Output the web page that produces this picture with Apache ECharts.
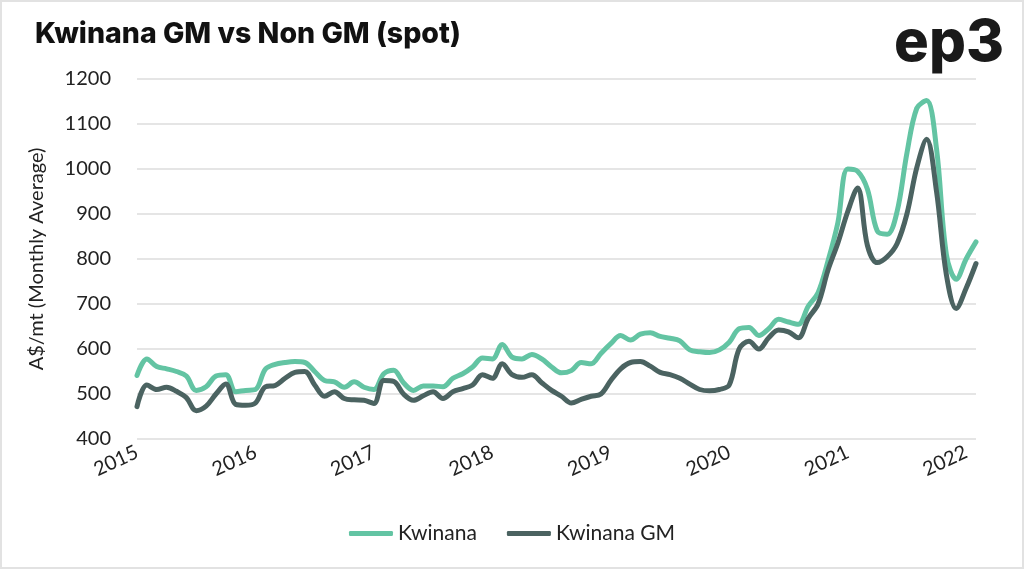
<!DOCTYPE html>
<html>
<head>
<meta charset="utf-8">
<script src="https://cdn.jsdelivr.net/npm/echarts@6/dist/echarts.min.js"></script>
<style>
html,body{margin:0;padding:0;background:#fff;}
#c{width:1024px;height:569px;box-sizing:border-box;border:2px solid #e2e2e2;}
</style>
</head>
<body>
<div id="c"></div>
<script>
// Monthly categories Jan 2015 .. Feb 2022
const years = [2015, 2016, 2017, 2018, 2019, 2020, 2021, 2022];
const months = [];
for (const y of years) {
  for (let m = 1; m <= 12; m++) {
    if (y === 2022 && m > 2) break;
    months.push(y + '-' + (m < 10 ? '0' + m : m));
  }
}

const kwinana = [
  541, 578, 561, 556, 550, 540, 508, 516, 540, 543, 505, 508,
  510, 555, 566, 570, 572, 570, 550, 530, 527, 515, 527, 515,
  510, 545, 553, 525, 508, 518, 518, 516, 535, 545, 560, 580,
  578, 610, 582, 578, 588, 578, 560, 547, 552, 570, 567, 590,
  612, 630, 620, 633, 636, 628, 624, 618, 598, 594, 592, 598,
  615, 645, 648, 630, 645, 666, 660, 655, 695, 725, 795, 880,
  1000, 995, 955, 862, 855, 905, 1035, 1135, 1152, 1045, 810, 755,
  800, 838
];

const kwinanaGM = [
  472, 520, 510, 515, 506, 492, 463, 473, 500, 522, 477, 475,
  480, 516, 519, 535, 548, 550, 520, 495, 505, 490, 487, 486,
  479, 530, 528, 500, 486, 496, 505, 490, 505, 512, 520, 543,
  535, 567, 543, 537, 543, 525, 508, 495, 480, 488, 495, 500,
  530, 556, 570, 572, 562, 548, 543, 535, 522, 510, 507, 510,
  520, 600, 617, 600, 625, 642, 638, 625, 668, 700, 775, 835,
  905, 958, 830, 792, 805, 834, 900, 1003, 1066, 950, 765, 690,
  735, 790
];

const yTicks = [400, 500, 600, 700, 800, 900, 1000, 1100, 1200];

const chart = echarts.init(document.getElementById('c'));
const fontFam = 'Lato, "Noto Sans", sans-serif';
chart.setOption({
  backgroundColor: '#fff',
  animation: false,
  title: {
    text: 'Kwinana GM vs Non GM (spot)',
    left: 28, top: 13,
    textStyle: { fontFamily: 'Inter, Lato, sans-serif', fontWeight: 800, fontSize: 28.5, color: '#111' }
  },
  graphic: [{
    type: 'text', right: 18, top: 13,
    style: { text: 'ep3', font: '800 58px Inter, Lato, sans-serif', fill: '#1a1a1a' }
  }],
  legend: {
    bottom: 18, left: 'center',
    icon: 'roundRect',
    itemWidth: 44, itemHeight: 5, itemGap: 30,
    textStyle: { fontFamily: fontFam, fontSize: 21, color: '#222' },
    data: ['Kwinana', 'Kwinana GM']
  },
  grid: { left: 135, right: 46, top: 77, bottom: 128, containLabel: false },
  xAxis: {
    type: 'category',
    data: months,
    boundaryGap: false,
    axisLine: { show: false },
    axisTick: { show: false },
    axisLabel: {
      interval: (i) => i % 12 === 0,
      formatter: (v) => v.slice(0, 4),
      rotate: 25,
      fontFamily: fontFam, fontSize: 20, color: '#222', margin: 12
    },
    splitLine: { show: false }
  },
  yAxis: {
    type: 'value',
    min: yTicks[0], max: yTicks[yTicks.length - 1], interval: 100,
    name: 'A$/mt (Monthly Average)',
    nameLocation: 'middle', nameGap: 90,
    nameTextStyle: { fontFamily: fontFam, fontSize: 20, color: '#222' },
    axisLabel: { fontFamily: fontFam, fontSize: 20, color: '#222', margin: 26, formatter: (v) => String(v) },
    axisLine: { show: false }, axisTick: { show: false },
    splitLine: { lineStyle: { color: '#dcdcdc', width: 1.5 } }
  },
  series: [
    {
      name: 'Kwinana', type: 'line', data: kwinana, smooth: 0.35,
      symbol: 'none', lineStyle: { color: '#63c4a3', width: 5, cap: 'round', join: 'round' },
      itemStyle: { color: '#63c4a3' }
    },
    {
      name: 'Kwinana GM', type: 'line', data: kwinanaGM, smooth: 0.35,
      symbol: 'none', lineStyle: { color: '#4b6361', width: 5, cap: 'round', join: 'round' },
      itemStyle: { color: '#4b6361' }
    }
  ]
});
</script>
</body>
</html>
